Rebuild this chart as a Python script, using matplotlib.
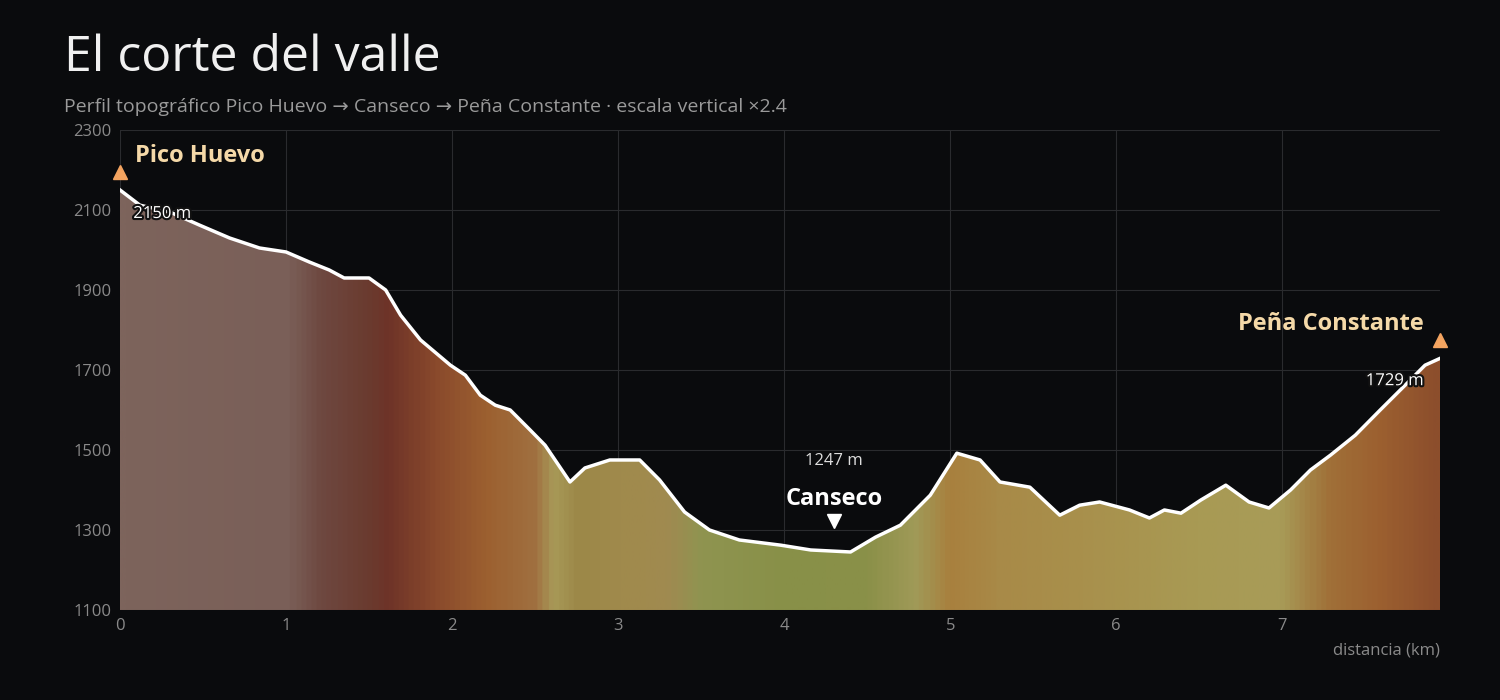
import numpy as np
import matplotlib.pyplot as plt
import matplotlib.patheffects as pe
from matplotlib.colors import LinearSegmentedColormap

plt.rcParams['font.family'] = ['Open Sans', 'DejaVu Sans']

# profile data (km, m)
dist_km = [0, 0.12, 0.3, 0.48, 0.66, 0.84, 1.0, 1.14, 1.26, 1.35, 1.5, 1.6, 1.69, 1.81,
           1.99, 2.08, 2.17, 2.26, 2.35, 2.47, 2.56, 2.71, 2.8, 2.95, 3.13, 3.25, 3.4,
           3.55, 3.73, 3.98, 4.16, 4.4, 4.55, 4.7, 4.88, 5.04, 5.18, 5.3, 5.48, 5.66,
           5.78, 5.9, 6.08, 6.2, 6.29, 6.39, 6.51, 6.66, 6.8, 6.92, 7.05, 7.17, 7.29,
           7.44, 7.59, 7.74, 7.86, 7.95]
elev_m = [2150, 2112, 2095, 2062, 2030, 2005, 1995, 1970, 1950, 1930, 1930, 1900, 1837,
          1775, 1712, 1687, 1637, 1612, 1600, 1550, 1512, 1420, 1455, 1475, 1475, 1425,
          1345, 1300, 1275, 1262, 1250, 1245, 1282, 1312, 1387, 1492, 1475, 1420, 1407,
          1337, 1362, 1370, 1350, 1330, 1350, 1342, 1375, 1412, 1370, 1355, 1400, 1450,
          1487, 1537, 1600, 1662, 1712, 1729]

peaks = [('Pico Huevo', 0.0, 2150), ('Peña Constante', 7.95, 1729)]
valley = ('Canseco', 4.3, 1247)

# colour bands along the route
band_stops = [(0, '#7d645c'), (1.0, '#7a5f58'), (1.2, '#6e4840'), (1.5, '#6a3a2e'),
              (1.6, '#6e3328'), (1.9, '#8a4a2c'), (2.2, '#9c6030'), (2.5, '#a07040'),
              (2.6, '#a89a58'), (2.75, '#9c8848'), (3.0, '#a08a4c'), (3.3, '#a08a50'),
              (3.5, '#8f9450'), (4.0, '#889048'), (4.5, '#8a9048'), (4.8, '#a09a58'),
              (5.0, '#a8803e'), (5.3, '#a88a48'), (5.8, '#a8904c'), (6.5, '#a89a54'),
              (7.0, '#a89c58'), (7.3, '#a07038'), (7.6, '#9c6030'), (7.95, '#8c4e2c')]

bg = '#0a0b0d'
xmax = dist_km[-1]
fig = plt.figure(figsize=(15, 7), dpi=100, facecolor=bg)
ax = fig.add_axes([0.08, 0.1286, 0.88, 0.6857], facecolor=bg)

cmap = LinearSegmentedColormap.from_list('bands', [(p / xmax, c) for p, c in band_stops])
grad = np.linspace(0, 1, 800).reshape(1, -1)
im = ax.imshow(grad, cmap=cmap, aspect='auto', extent=[0, xmax, 1100, 2300], zorder=1)
poly = ax.fill_between(dist_km, elev_m, 1100, color='none')
im.set_clip_path(poly.get_paths()[0], transform=ax.transData)

ax.plot(dist_km, elev_m, color='white', lw=2.5, zorder=3)

ax.set_xlim(0, xmax)
ax.set_ylim(1100, 2300)
ax.set_yticks(range(1100, 2301, 200))
ax.set_xticks(range(0, 8))
ax.grid(color='#2a2b2e', lw=0.8, zorder=0)
ax.set_axisbelow(True)
for s in ax.spines.values():
    s.set_visible(False)
ax.tick_params(colors='#8a8a8a', labelsize=12, length=0, pad=6)
ax.set_xlabel('distancia (km)', color='#8a8a8a', fontsize=12, loc='right', labelpad=6)

outline = [pe.withStroke(linewidth=3, foreground='#111111')]
for name, x, y in peaks:
    ax.plot(x, y + 45, marker='^', color='#f4a460', ms=10, clip_on=False, zorder=5)
ax.text(0.09, 2235, 'Pico Huevo', color='#f5d9a8', fontsize=17, fontweight='bold', va='center')
ax.text(0.08, 2090, '2150 m', color='white', fontsize=12, va='center', path_effects=outline)
ax.text(7.85, 1815, 'Peña Constante', color='#f5d9a8', fontsize=17, fontweight='bold',
        ha='right', va='center')
ax.text(7.85, 1672, '1729 m', color='white', fontsize=12, ha='right', va='center',
        path_effects=outline)

name, x, y = valley
ax.plot(x, y + 75, marker='v', color='white', ms=10, zorder=5)
ax.text(x, y + 130, name, color='white', fontsize=17, fontweight='bold', ha='center', va='center')
ax.text(x, y + 225, f'{y} m', color='#dddddd', fontsize=12, ha='center', va='center')

fig.text(0.043, 0.917, 'El corte del valle', color='#f0f0f0', fontsize=36, fontweight='medium', va='center')
fig.text(0.043, 0.847, 'Perfil topográfico Pico Huevo → Canseco → Peña Constante · escala vertical ×2.4',
         color='#9a9a9a', fontsize=14, va='center')

fig.savefig('out.png', dpi=100, facecolor=bg)
